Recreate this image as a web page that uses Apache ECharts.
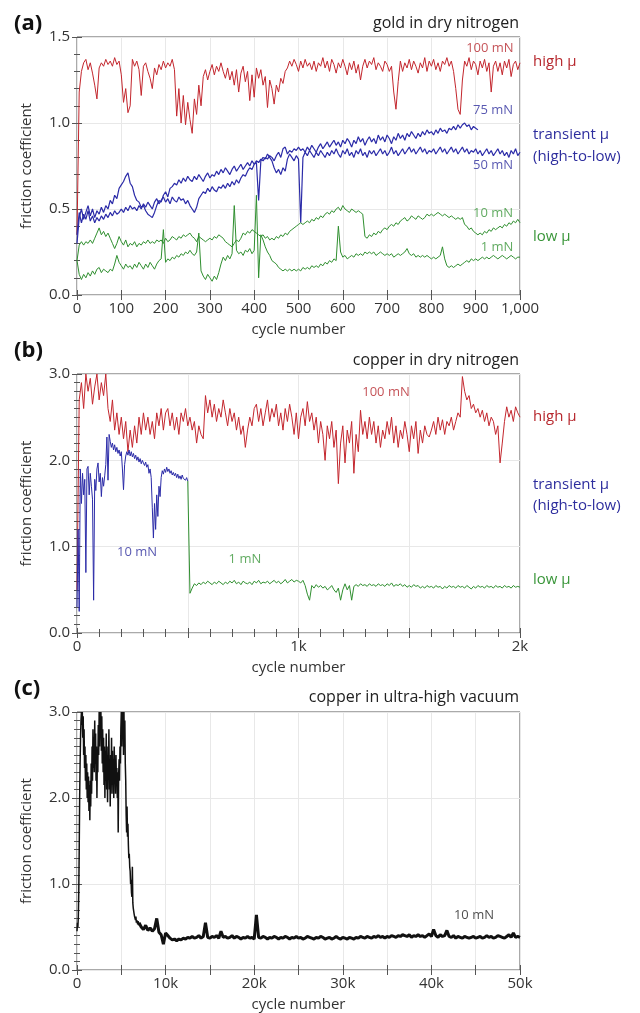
<!DOCTYPE html>
<html lang="en">
<head>
<meta charset="UTF-8">
<title>friction coefficient vs cycle number</title>
<script src="https://cdn.jsdelivr.net/npm/echarts@6/dist/echarts.min.js"></script>
<style>
  html, body { margin: 0; padding: 0; background: #fff; }
  #chart { width: 640px; height: 1013px; }
</style>
</head>
<body>
<div id="chart"></div>
<script>
// ---- (a) gold in dry nitrogen, one value every 5 cycles from cycle 0 ----
const goldStep = 5;
const gold100 = [
  0.35,1.18,1.30,1.35,1.37,1.31,1.35,1.29,1.22,1.14,1.32,1.35,1.33,1.37,1.34,1.36,1.33,1.38,1.34,1.36,
  1.28,1.12,1.20,1.06,1.10,1.37,1.33,1.36,1.31,1.16,1.33,1.35,1.30,1.26,1.20,1.32,1.28,1.34,1.31,1.36,
  1.32,1.35,1.33,1.37,1.31,1.04,1.20,1.00,1.16,0.99,1.12,1.02,0.94,1.14,1.05,1.22,1.10,1.27,1.31,1.25,
  1.30,1.34,1.28,1.33,1.30,1.35,1.30,1.26,1.32,1.25,1.30,1.22,1.31,1.18,1.29,1.33,1.24,1.30,1.13,1.28,
  1.15,1.32,1.26,1.31,1.22,1.27,1.09,1.25,1.20,1.11,1.22,1.18,1.26,1.23,1.30,1.32,1.36,1.33,1.37,1.34,
  1.30,1.36,1.32,1.37,1.33,1.35,1.31,1.36,1.30,1.35,1.33,1.38,1.32,1.36,1.30,1.37,1.34,1.29,1.35,1.32,
  1.37,1.33,1.28,1.35,1.31,1.36,1.29,1.34,1.25,1.33,1.37,1.32,1.36,1.34,1.38,1.31,1.35,1.33,1.30,1.36,
  1.34,1.30,1.33,1.18,1.08,1.24,1.36,1.30,1.35,1.32,1.37,1.31,1.36,1.33,1.29,1.35,1.32,1.38,1.30,1.36,
  1.33,1.37,1.31,1.35,1.30,1.36,1.34,1.38,1.33,1.36,1.30,1.20,1.08,1.05,1.25,1.36,1.33,1.38,1.31,1.36,
  1.34,1.28,1.36,1.32,1.37,1.30,1.35,1.18,1.33,1.36,1.30,1.35,1.28,1.36,1.32,1.37,1.27,1.34,1.36,1.31,1.35
];
const gold75 = [
  0.30,0.45,0.50,0.44,0.48,0.52,0.46,0.50,0.45,0.49,0.47,0.51,0.48,0.52,0.50,0.55,0.53,0.58,0.56,0.62,
  0.64,0.66,0.69,0.71,0.65,0.63,0.58,0.55,0.54,0.51,0.52,0.49,0.47,0.46,0.45,0.48,0.52,0.55,0.54,0.58,
  0.60,0.57,0.62,0.63,0.65,0.64,0.67,0.65,0.68,0.66,0.69,0.67,0.66,0.69,0.67,0.70,0.68,0.66,0.69,0.71,
  0.68,0.70,0.69,0.72,0.70,0.73,0.71,0.74,0.72,0.70,0.73,0.75,0.72,0.74,0.76,0.73,0.75,0.77,0.75,0.78,
  0.76,0.78,0.77,0.79,0.78,0.80,0.79,0.81,0.80,0.78,0.81,0.83,0.80,0.85,0.86,0.82,0.84,0.83,0.85,0.84,
  0.86,0.84,0.85,0.83,0.86,0.84,0.87,0.85,0.83,0.86,0.88,0.85,0.87,0.89,0.86,0.88,0.90,0.87,0.89,0.86,
  0.90,0.88,0.91,0.89,0.86,0.90,0.88,0.92,0.89,0.91,0.87,0.90,0.92,0.89,0.91,0.88,0.93,0.90,0.92,0.89,
  0.93,0.91,0.88,0.92,0.90,0.94,0.91,0.93,0.90,0.94,0.92,0.95,0.93,0.91,0.94,0.92,0.95,0.93,0.96,0.94,
  0.95,0.93,0.96,0.94,0.97,0.95,0.96,0.94,0.97,0.96,0.98,0.96,0.99,0.97,0.99,1.00,0.98,0.99,0.96,0.98,
  0.97,0.96
];
const gold50 = [
  0.35,0.48,0.42,0.47,0.44,0.49,0.43,0.46,0.42,0.45,0.43,0.46,0.44,0.47,0.45,0.48,0.46,0.49,0.47,0.48,
  0.50,0.48,0.51,0.49,0.52,0.50,0.51,0.49,0.52,0.50,0.53,0.51,0.54,0.52,0.50,0.54,0.56,0.53,0.55,0.57,
  0.54,0.56,0.53,0.57,0.55,0.54,0.57,0.55,0.56,0.53,0.55,0.52,0.50,0.48,0.51,0.56,0.58,0.60,0.59,0.62,
  0.60,0.63,0.61,0.60,0.63,0.62,0.64,0.62,0.65,0.63,0.66,0.64,0.67,0.65,0.68,0.70,0.69,0.72,0.74,0.73,
  0.76,0.77,0.55,0.78,0.80,0.79,0.82,0.80,0.78,0.74,0.71,0.73,0.70,0.74,0.72,0.79,0.82,0.80,0.78,0.81,
  0.79,0.42,0.80,0.83,0.81,0.84,0.82,0.80,0.83,0.81,0.84,0.82,0.80,0.83,0.81,0.84,0.82,0.85,0.82,0.80,
  0.84,0.82,0.85,0.81,0.83,0.80,0.84,0.82,0.85,0.81,0.83,0.80,0.84,0.82,0.84,0.81,0.83,0.85,0.82,0.84,
  0.81,0.83,0.86,0.82,0.84,0.81,0.83,0.85,0.82,0.84,0.86,0.83,0.85,0.82,0.84,0.86,0.83,0.85,0.82,0.84,
  0.83,0.85,0.82,0.84,0.86,0.83,0.85,0.82,0.84,0.86,0.83,0.85,0.82,0.84,0.86,0.83,0.85,0.82,0.84,0.83,
  0.85,0.82,0.84,0.81,0.83,0.85,0.82,0.84,0.81,0.83,0.85,0.82,0.84,0.81,0.83,0.80,0.84,0.82,0.85,0.81,0.83
];
const gold10 = [
  0.20,0.29,0.31,0.29,0.31,0.30,0.32,0.30,0.33,0.36,0.39,0.35,0.37,0.34,0.36,0.33,0.30,0.27,0.30,0.34,
  0.31,0.29,0.32,0.28,0.30,0.29,0.31,0.28,0.30,0.29,0.31,0.30,0.32,0.30,0.31,0.30,0.32,0.31,0.32,0.30,
  0.33,0.31,0.32,0.34,0.33,0.32,0.34,0.33,0.35,0.34,0.35,0.36,0.34,0.33,0.31,0.34,0.33,0.32,0.31,0.32,
  0.33,0.32,0.34,0.33,0.35,0.34,0.33,0.31,0.30,0.29,0.28,0.30,0.32,0.31,0.33,0.36,0.35,0.37,0.36,0.38,
  0.37,0.36,0.35,0.34,0.35,0.33,0.34,0.32,0.33,0.32,0.34,0.33,0.35,0.34,0.36,0.35,0.37,0.38,0.39,0.40,
  0.41,0.42,0.41,0.42,0.43,0.42,0.44,0.43,0.45,0.44,0.46,0.45,0.47,0.48,0.47,0.49,0.48,0.50,0.51,0.49,
  0.52,0.50,0.49,0.48,0.50,0.49,0.48,0.49,0.48,0.47,0.34,0.33,0.35,0.34,0.36,0.35,0.37,0.36,0.38,0.39,
  0.38,0.40,0.41,0.40,0.42,0.41,0.43,0.44,0.45,0.43,0.44,0.46,0.45,0.44,0.46,0.45,0.44,0.45,0.47,0.46,
  0.47,0.46,0.47,0.48,0.47,0.46,0.47,0.46,0.45,0.46,0.45,0.44,0.45,0.44,0.45,0.41,0.40,0.38,0.39,0.37,
  0.36,0.35,0.36,0.35,0.37,0.36,0.38,0.37,0.39,0.38,0.39,0.40,0.39,0.41,0.40,0.42,0.41,0.43,0.42,0.44,0.42
];
const gold1 = [
  0.20,0.12,0.09,0.12,0.10,0.13,0.11,0.14,0.12,0.15,0.16,0.13,0.15,0.14,0.13,0.15,0.14,0.18,0.23,0.19,
  0.17,0.15,0.18,0.16,0.17,0.15,0.18,0.16,0.19,0.17,0.15,0.18,0.16,0.19,0.17,0.15,0.18,0.20,0.21,0.38,
  0.19,0.21,0.20,0.22,0.21,0.23,0.22,0.24,0.23,0.25,0.24,0.26,0.24,0.23,0.25,0.36,0.14,0.11,0.09,0.12,
  0.10,0.08,0.11,0.09,0.13,0.18,0.22,0.20,0.23,0.21,0.24,0.52,0.26,0.24,0.25,0.23,0.26,0.25,0.27,0.24,
  0.26,0.58,0.10,0.35,0.32,0.28,0.25,0.23,0.20,0.19,0.18,0.16,0.15,0.14,0.15,0.14,0.15,0.14,0.15,0.14,
  0.15,0.14,0.16,0.15,0.16,0.15,0.17,0.16,0.17,0.16,0.18,0.17,0.19,0.18,0.20,0.19,0.21,0.20,0.40,0.25,
  0.22,0.23,0.21,0.22,0.23,0.22,0.24,0.23,0.24,0.23,0.25,0.24,0.25,0.24,0.25,0.23,0.24,0.25,0.24,0.23,
  0.24,0.23,0.24,0.22,0.23,0.24,0.23,0.24,0.25,0.27,0.24,0.23,0.24,0.22,0.23,0.22,0.23,0.22,0.23,0.22,
  0.21,0.22,0.21,0.22,0.23,0.28,0.21,0.17,0.16,0.17,0.16,0.17,0.18,0.17,0.18,0.19,0.20,0.19,0.21,0.20,
  0.21,0.20,0.21,0.22,0.21,0.22,0.21,0.22,0.23,0.22,0.21,0.22,0.23,0.22,0.21,0.22,0.23,0.22,0.21,0.22,0.22
];

// ---- (b) copper in dry nitrogen ----
const cu100Step = 10;   // from cycle 0
const cu100 = [
  0.50,2.70,2.90,2.60,3.00,2.80,2.95,2.65,2.85,3.00,2.70,
  2.90,2.75,3.00,2.60,2.45,2.70,2.35,2.55,2.30,2.50,
  2.25,2.45,2.10,2.35,2.15,2.40,2.20,2.50,2.30,2.55,
  2.35,2.50,2.30,2.45,2.25,2.55,2.40,2.60,2.35,2.55,
  2.60,2.40,2.55,2.35,2.50,2.30,2.55,2.45,2.60,2.40,
  2.50,2.35,2.45,2.20,2.40,2.30,2.25,2.75,2.55,2.70,
  2.50,2.65,2.45,2.60,2.50,2.70,2.55,2.40,2.60,2.45,
  2.55,2.35,2.50,2.30,2.40,2.15,2.35,2.50,2.40,2.60,
  2.65,2.45,2.60,2.40,2.55,2.70,2.45,2.60,2.50,2.65,
  2.40,2.55,2.35,2.60,2.45,2.65,2.50,2.30,2.55,2.25,
  2.50,2.60,2.40,2.68,2.45,2.55,2.35,2.50,2.20,2.45,
  2.30,2.00,2.40,2.25,2.45,2.15,2.35,1.73,2.20,2.40,
  1.97,2.35,2.20,2.45,1.85,2.30,2.10,2.58,2.30,2.45,
  2.25,2.50,2.30,2.45,2.20,2.40,2.15,2.35,2.25,2.45,
  2.30,2.50,2.20,2.40,2.15,2.35,2.25,2.45,2.30,2.10,
  2.40,2.25,2.45,2.08,2.35,2.20,2.40,2.30,2.27,2.35,
  2.45,2.30,2.50,2.35,2.47,2.30,2.45,2.40,2.50,2.35,
  2.45,2.55,2.50,2.97,2.80,2.70,2.75,2.60,2.65,2.55,
  2.60,2.50,2.58,2.45,2.55,2.40,2.50,2.45,2.30,2.40,
  1.97,2.20,2.45,2.62,2.50,2.58,2.45,2.62,2.55,2.50
];
const cu10Step = 5;     // from cycle 0 to 500
const cu10 = [
  0.30,1.20,0.25,1.90,1.50,1.85,1.60,1.78,0.70,1.90,1.93,1.60,1.85,1.70,1.55,0.38,1.78,1.65,1.90,1.97,
  1.75,1.85,1.58,1.80,1.70,1.82,1.95,2.27,1.77,2.30,2.22,2.15,2.20,2.12,2.18,2.10,2.15,2.08,2.12,2.05,
  2.10,1.90,1.66,1.95,2.05,2.10,2.06,2.12,2.05,2.10,2.04,2.08,2.02,2.06,2.00,2.04,1.98,2.02,1.96,2.00,
  1.97,1.94,1.98,1.92,1.95,1.85,1.90,1.80,1.45,1.10,1.50,1.20,1.60,1.35,1.70,1.58,1.80,1.88,1.84,1.90,
  1.86,1.92,1.87,1.90,1.85,1.88,1.83,1.86,1.82,1.85,1.80,1.84,1.79,1.82,1.78,1.83,1.79,1.81,1.77,1.80,1.76
];
const cu1Start = 500, cu1Step = 10;
const cu1 = [
  1.76,0.46,0.52,0.57,0.55,0.58,0.56,0.59,0.57,0.60,
  0.58,0.56,0.59,0.57,0.60,0.58,0.56,0.59,0.57,0.60,
  0.58,0.61,0.57,0.59,0.56,0.60,0.58,0.57,0.59,0.56,
  0.60,0.58,0.61,0.57,0.59,0.58,0.60,0.57,0.59,0.61,
  0.58,0.60,0.57,0.59,0.62,0.58,0.60,0.62,0.59,0.61,
  0.60,0.58,0.61,0.55,0.45,0.38,0.55,0.52,0.56,0.53,
  0.55,0.52,0.54,0.50,0.52,0.55,0.50,0.47,0.52,0.38,
  0.50,0.57,0.50,0.55,0.38,0.54,0.56,0.54,0.57,0.55,
  0.56,0.54,0.57,0.55,0.56,0.54,0.57,0.55,0.56,0.54,
  0.57,0.55,0.58,0.54,0.56,0.55,0.57,0.54,0.56,0.53,
  0.55,0.53,0.56,0.54,0.55,0.52,0.54,0.52,0.55,0.53,
  0.54,0.52,0.55,0.53,0.54,0.51,0.54,0.52,0.55,0.53,
  0.54,0.52,0.55,0.53,0.54,0.52,0.55,0.53,0.51,0.54,
  0.52,0.55,0.53,0.54,0.52,0.55,0.53,0.54,0.52,0.55,
  0.53,0.54,0.52,0.55,0.53,0.54,0.52,0.55,0.53,0.54,0.53
];

// ---- (c) copper in ultra-high vacuum ----
const uhvEarlyStep = 50;   // cycles 0..7000
const uhvEarly = [
  0.45,0.55,0.50,0.62,0.90,1.40,2.00,2.40,2.70,2.90,
  3.00,2.85,3.00,2.70,2.95,2.50,2.80,2.35,2.60,2.20,
  2.50,2.10,2.40,2.00,2.30,1.95,2.25,1.85,2.15,1.74,
  2.20,1.90,2.40,2.05,2.60,2.20,2.80,2.35,2.70,2.30,
  2.90,2.40,2.75,2.20,2.60,2.00,2.50,2.30,2.85,2.50,
  3.00,2.60,3.00,2.70,3.00,2.55,2.95,2.40,2.80,2.30,
  2.70,2.15,2.60,2.00,2.55,2.20,2.75,2.10,2.50,1.95,
  2.60,2.25,2.80,2.10,2.45,1.90,2.50,2.20,2.70,2.05,
  2.55,2.15,2.45,2.00,2.60,2.30,2.40,2.05,2.50,2.20,
  2.35,2.00,2.30,1.60,2.25,2.45,2.20,2.60,2.40,2.80,
  3.00,2.60,3.00,2.70,3.00,2.50,3.00,2.60,2.90,2.40,
  2.20,1.80,1.60,1.90,1.55,1.70,1.45,1.30,1.35,1.20,
  1.15,1.00,1.05,0.90,0.85,1.20,0.78,0.72,0.70,0.65,
  0.62,0.60,0.58,0.62,0.55,0.58,0.56,0.53,0.57,0.52,
  0.55
];
const uhvLateStart = 7250, uhvLateStep = 250;  // cycles 7250..50000
const uhvLate = [
  0.50,0.47,0.52,0.46,0.49,0.45,0.48,0.60,
  0.44,0.41,0.30,0.43,0.40,0.37,0.35,0.36,
  0.34,0.36,0.35,0.37,0.36,0.38,0.37,0.39,
  0.37,0.38,0.40,0.37,0.39,0.55,0.38,0.37,
  0.39,0.38,0.40,0.37,0.45,0.38,0.39,0.37,
  0.38,0.40,0.37,0.39,0.38,0.36,0.38,0.37,
  0.39,0.37,0.38,0.36,0.64,0.38,0.37,0.39,
  0.38,0.36,0.38,0.37,0.39,0.38,0.36,0.38,
  0.37,0.39,0.38,0.36,0.38,0.37,0.39,0.37,
  0.38,0.36,0.37,0.39,0.38,0.37,0.36,0.38,
  0.37,0.39,0.38,0.36,0.37,0.38,0.36,0.37,
  0.39,0.37,0.36,0.38,0.37,0.36,0.38,0.37,
  0.36,0.38,0.37,0.39,0.38,0.37,0.39,0.38,
  0.37,0.39,0.38,0.40,0.38,0.39,0.37,0.39,
  0.38,0.40,0.39,0.38,0.40,0.39,0.41,0.40,
  0.39,0.41,0.38,0.40,0.39,0.41,0.39,0.40,
  0.38,0.40,0.42,0.39,0.47,0.40,0.38,0.41,
  0.39,0.40,0.46,0.39,0.38,0.40,0.37,0.39,
  0.38,0.37,0.39,0.38,0.37,0.38,0.39,0.37,
  0.38,0.39,0.37,0.38,0.40,0.38,0.39,0.37,
  0.38,0.40,0.39,0.38,0.37,0.39,0.41,0.38,
  0.43,0.38,0.39,0.38
];

// in-plot load labels: [cycle, mu, text]
const labelsA = [[932, 1.436, '100 mN'], [939, 1.076, '75 mN'], [939, 0.756, '50 mN'], [939, 0.477, '10 mN'], [948, 0.279, '1 mN']];
const labelsB = [[1395, 2.79, '100 mN'], [271, 0.93, '10 mN'], [758, 0.85, '1 mN']];
const labelsC = [[44800, 0.64, '10 mN']];

const RED = '#c3262d', BLUE = '#2b2ba8', GREEN = '#2f8f2f', BLACK = '#111';
const RED_T = '#b7282e', BLUE_T = '#2e2e9e', GREEN_T = '#3a963a';
const FONT = '"Open Sans", "Noto Sans", sans-serif';

function pairs(vals, start, step) {
  return vals.map((v, i) => [start + i * step, v]);
}

let chart = echarts.init(document.getElementById('chart'));

let grids = [
  {left: 77, top: 37, width: 443, height: 258},
  {left: 77, top: 374, width: 443, height: 259},
  {left: 77, top: 712, width: 443, height: 258}
].map(g => Object.assign(g, {show: true, borderColor: '#555', borderWidth: 1, containLabel: false}));

const tickStyle = {color: '#555', width: 1};
const gridStyle = {color: '#e8e8e8', width: 1};

function xPair(gi, max, interval, fmt, minorSplit) {
  let base = {
    type: 'value', gridIndex: gi, min: 0, max: max, interval: interval,
    axisLine: {show: false},
    axisTick: {inside: true, length: 5, lineStyle: tickStyle},
    minorTick: {show: !!minorSplit, splitNumber: minorSplit || 5, length: 4, lineStyle: tickStyle}
  };
  return [
    Object.assign({}, base, {
      position: 'bottom',
      splitLine: {show: true, lineStyle: gridStyle},
      axisLabel: {formatter: fmt, fontSize: 15, color: '#333', margin: 6, fontFamily: FONT},
      name: 'cycle number', nameLocation: 'middle', nameGap: 27,
      nameTextStyle: {fontSize: 15, color: '#333', fontFamily: FONT}
    }),
    Object.assign({}, base, {position: 'top', splitLine: {show: false}, axisLabel: {show: false}})
  ];
}

function yPair(gi, max, interval, minorSplit) {
  let base = {
    type: 'value', gridIndex: gi, min: 0, max: max, interval: interval,
    axisLine: {show: false},
    axisTick: {inside: true, length: 5, lineStyle: tickStyle},
    minorTick: {show: true, splitNumber: minorSplit, length: 3, lineStyle: tickStyle}
  };
  return [
    Object.assign({}, base, {
      position: 'left',
      splitLine: {show: true, lineStyle: gridStyle},
      axisLabel: {formatter: v => v.toFixed(1), fontSize: 15, color: '#333', margin: 7, fontFamily: FONT},
      name: 'friction coefficient', nameLocation: 'middle', nameGap: 43,
      nameTextStyle: {fontSize: 15, color: '#333', fontFamily: FONT}
    }),
    Object.assign({}, base, {position: 'right', splitLine: {show: false}, axisLabel: {show: false}})
  ];
}

let xAxis = [].concat(
  xPair(0, 1000, 100, v => v === 1000 ? '1,000' : String(v), 0),
  xPair(1, 2000, 500, v => v % 1000 === 0 ? (v === 0 ? '0' : v / 1000 + 'k') : '', 5),
  xPair(2, 50000, 5000, v => v % 10000 === 0 ? (v === 0 ? '0' : v / 1000 + 'k') : '', 0)
);
let yAxis = [].concat(
  yPair(0, 1.5, 0.5, 5),
  yPair(1, 3, 1, 10),
  yPair(2, 3, 1, 10)
);

function line(ax, data, color, width) {
  return {
    type: 'line', xAxisIndex: ax, yAxisIndex: ax, data: data,
    showSymbol: false, symbol: 'none', silent: true, clip: true,
    sampling: null, animation: false,
    lineStyle: {color: color, width: width || 1}
  };
}

function labelSeries(ax, list, colors) {
  return {
    type: 'scatter', xAxisIndex: ax, yAxisIndex: ax, symbolSize: 0, silent: true, animation: false,
    data: list.map((d, i) => ({
      value: [d[0], d[1]], name: d[2],
      label: {show: true, position: 'inside', formatter: d[2], color: colors[i], fontSize: 13, fontFamily: FONT}
    }))
  };
}

let series = [
  line(0, pairs(gold100, 0, goldStep), RED),
  line(0, pairs(gold75, 0, goldStep), BLUE, 1.2),
  line(0, pairs(gold50, 0, goldStep), BLUE, 1.2),
  line(0, pairs(gold10, 0, goldStep), GREEN),
  line(0, pairs(gold1, 0, goldStep), GREEN),
  labelSeries(0, labelsA, [RED_T, BLUE_T, BLUE_T, GREEN_T, GREEN_T]),

  line(2, pairs(cu100, 0, cu100Step), RED),
  line(2, pairs(cu10, 0, cu10Step), BLUE),
  line(2, pairs(cu1, cu1Start, cu1Step), GREEN),
  labelSeries(2, labelsB, [RED_T, BLUE_T, GREEN_T]),

  line(4, pairs(uhvEarly, 0, uhvEarlyStep), BLACK, 1.5),
  line(4, [[7000, uhvEarly[uhvEarly.length - 1]]].concat(pairs(uhvLate, uhvLateStart, uhvLateStep)), BLACK, 3),
  labelSeries(4, labelsC, ['#222'])
];

function txt(x, y, text, opts) {
  opts = opts || {};
  return {
    type: 'text', x: x, y: y, silent: true,
    style: {
      text: text, fill: opts.fill || '#222',
      font: (opts.bold ? 'bold ' : '') + (opts.size || 15) + 'px ' + FONT,
      textAlign: opts.align || 'left', textVerticalAlign: 'middle'
    }
  };
}

let graphic = [
  txt(14, 24, '(a)', {bold: true, size: 22, fill: '#111'}),
  txt(519, 23, 'gold in dry nitrogen', {align: 'right', size: 16}),
  txt(533, 62, 'high μ', {fill: RED_T}),
  txt(533, 135, 'transient μ', {fill: BLUE_T}),
  txt(533, 157, '(high-to-low)', {fill: BLUE_T}),
  txt(533, 237, 'low μ', {fill: GREEN_T}),

  txt(14, 351, '(b)', {bold: true, size: 22, fill: '#111'}),
  txt(519, 360, 'copper in dry nitrogen', {align: 'right', size: 16}),
  txt(533, 417, 'high μ', {fill: RED_T}),
  txt(533, 485, 'transient μ', {fill: BLUE_T}),
  txt(533, 506, '(high-to-low)', {fill: BLUE_T}),
  txt(533, 580, 'low μ', {fill: GREEN_T}),

  txt(14, 689, '(c)', {bold: true, size: 22, fill: '#111'}),
  txt(519, 697, 'copper in ultra-high vacuum', {align: 'right', size: 16})
];

chart.setOption({
  backgroundColor: '#fff',
  animation: false,
  textStyle: {fontFamily: FONT},
  grid: grids,
  xAxis: xAxis,
  yAxis: yAxis,
  series: series,
  graphic: graphic
});
</script>
</body>
</html>
